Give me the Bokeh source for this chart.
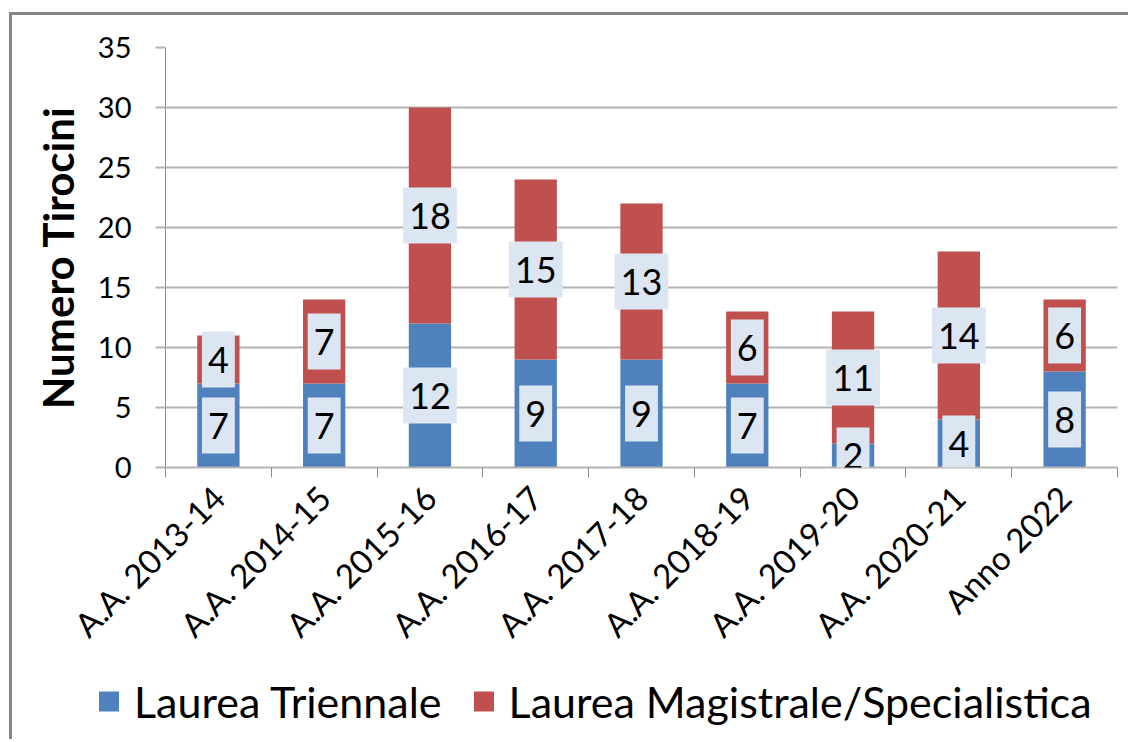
from bokeh.plotting import figure
from bokeh.models import ColumnDataSource, FixedTicker, Legend, LegendItem, Label
from bokeh.embed import file_html
from bokeh.resources import INLINE

categories = ["A.A. 2013-14", "A.A. 2014-15", "A.A. 2015-16", "A.A. 2016-17",
              "A.A. 2017-18", "A.A. 2018-19", "A.A. 2019-20", "A.A. 2020-21",
              "Anno 2022"]
triennale = [7, 7, 12, 9, 9, 7, 2, 4, 8]
magistrale = [4, 7, 18, 15, 13, 6, 11, 14, 6]
series_names = ["Laurea Triennale", "Laurea Magistrale/Specialistica"]
y_ticks = [0, 5, 10, 15, 20, 25, 30, 35]

BLUE = "#4f81bd"
RED = "#c0504d"
FONT = "Lato"
FRAME = "3px solid #868686"

xs = list(range(1, len(categories) + 1))
source = ColumnDataSource(dict(x=xs, tri=triennale, mag=magistrale))

p = figure(width=1119, height=650, x_range=(0.5, len(categories) + 0.5),
           y_range=(0, 35), output_backend="svg", toolbar_location=None,
           min_border_left=153, min_border_right=14, min_border_top=32,
           min_border_bottom=198)
p.styles = {"margin-left": "9px", "margin-top": "12px",
            "border-top": FRAME, "border-left": FRAME}
p.outline_line_color = None
p.background_fill_color = "white"
p.border_fill_color = "white"

rs = p.vbar_stack(["tri", "mag"], x="x", width=0.4, color=[BLUE, RED],
                  source=source, line_color=None)

# axes
p.xgrid.grid_line_color = None
p.ygrid.grid_line_color = "#b3b3b3"
p.ygrid.grid_line_width = 2
p.yaxis.ticker = FixedTicker(ticks=y_ticks)
p.yaxis.axis_line_color = "#8c8c8c"
p.yaxis.axis_line_width = 1
p.yaxis.major_tick_line_color = "#b3b3b3"
p.yaxis.major_tick_line_width = 2
p.yaxis.major_tick_in = 0
p.yaxis.major_tick_out = 10
p.yaxis.minor_tick_line_color = None
p.yaxis.major_label_text_font = FONT
p.yaxis.major_label_text_font_size = "29px"
p.yaxis.major_label_text_color = "black"
p.yaxis.major_label_standoff = 24
p.yaxis.axis_label = "Numero Tirocini"
p.yaxis.axis_label_text_font = FONT
p.yaxis.axis_label_text_font_style = "bold"
p.yaxis.axis_label_text_font_size = "42px"
p.yaxis.axis_label_text_color = "black"
p.yaxis.axis_label_standoff = 12

p.xaxis.ticker = FixedTicker(ticks=xs, minor_ticks=[x - 0.5 for x in xs] + [len(xs) + 0.5])
p.xaxis.major_label_overrides = {x: c for x, c in zip(xs, categories)}
p.xaxis.major_label_orientation = 0.785398
p.xaxis.axis_line_color = "#b3b3b3"
p.xaxis.axis_line_width = 2
p.xaxis.major_tick_line_color = None
p.xaxis.major_tick_in = 0
p.xaxis.major_tick_out = 0
p.xaxis.minor_tick_line_color = "#8c8c8c"
p.xaxis.minor_tick_in = 0
p.xaxis.minor_tick_out = 10
p.xaxis.major_label_text_font = FONT
p.xaxis.major_label_text_font_size = "33px"
p.xaxis.major_label_text_color = "black"
p.xaxis.major_label_standoff = 14

# data labels
for x, t, m in zip(xs, triennale, magistrale):
    for val, ymid in ((t, t / 2), (m, t + m / 2)):
        p.add_layout(Label(x=x, y=ymid, text=str(val), text_align="center",
                           text_baseline="middle", text_font=FONT,
                           text_font_size="36px", text_color="black",
                           background_fill_color="#dce6f2",
                           padding=(6, 15)))

# legend in its own strip (a separate root) below the chart; its glyphs are out of view
pl = figure(width=1119, height=77, x_range=(-100, -99), y_range=(0, 1),
            output_backend="svg", toolbar_location=None,
            min_border_left=84, min_border_right=0, min_border_top=0,
            min_border_bottom=0)
pl.styles = {"margin-left": "9px", "border-left": FRAME}
pl.axis.visible = False
pl.grid.visible = False
pl.outline_line_color = None
lr0 = pl.vbar(x="x", top="tri", width=0.4, color=BLUE, line_color=None, source=source)
lr1 = pl.vbar(x="x", top="mag", width=0.4, color=RED, line_color=None, source=source)
legend = Legend(items=[LegendItem(label=series_names[0], renderers=[lr0]),
                       LegendItem(label=series_names[1], renderers=[lr1])],
                location="center_left", orientation="horizontal",
                border_line_color=None, background_fill_alpha=0,
                label_text_font=FONT, label_text_font_size="43px",
                label_text_color="black",
                glyph_width=25, glyph_height=25, label_standoff=13,
                spacing=29, padding=0, margin=0)
pl.add_layout(legend)

open("out.html", "w").write(file_html([p, pl], INLINE))
